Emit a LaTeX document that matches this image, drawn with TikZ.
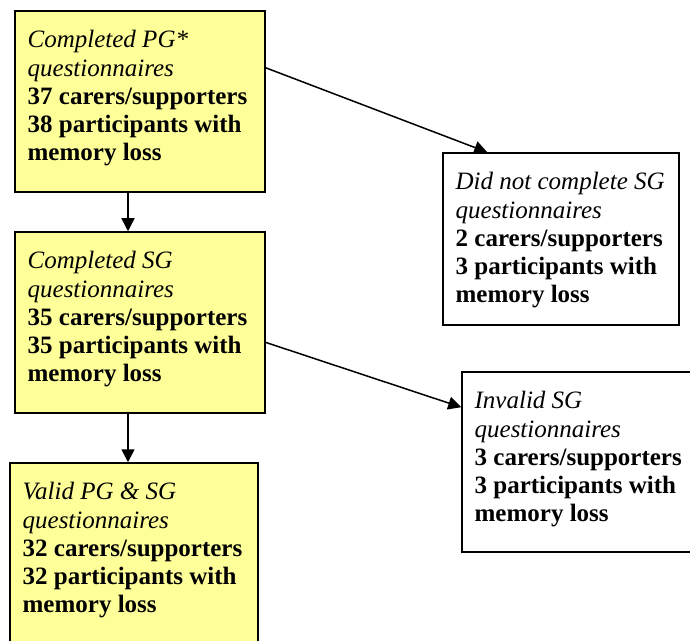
\documentclass[tikz,border=0pt]{standalone}
\usepackage{fontspec}
\setmainfont{Liberation Serif}
\usetikzlibrary{arrows.meta, calc}
\definecolor{boxyellow}{HTML}{FFFF99}
\newcommand{\flowbox}[6]{%
  \node[draw=black, line width=0.75pt, fill=#3, minimum width=#4,
        minimum height=#5, inner sep=0pt] (#1) at (#2) {};
  \node[anchor=north west, inner xsep=6.5pt, inner ysep=10pt, align=left]
        (#1-text) at (#1.north west) {#6};}

\begin{document}
\begin{tikzpicture}[x=0.5pt, y=-0.5pt, font=\fontsize{12.5}{14.1}\selectfont,
    flowarrow/.style={-{Triangle[length=6.5pt, width=6.5pt]}, line width=0.75pt}]
  \clip (0,0) rectangle (690,641);
  \fill[white] (0,0) rectangle (690,641);
  \flowbox{s1}{140,101.5}{boxyellow}{125pt}{90.5pt}{\textit{Completed PG*}\\
    \textit{questionnaires}\\\textbf{37 carers/supporters}\\
    \textbf{38 participants with}\\\textbf{memory loss}}
  \flowbox{s2}{140,322.5}{boxyellow}{125pt}{90.5pt}{\textit{Completed SG}\\
    \textit{questionnaires}\\\textbf{35 carers/supporters}\\
    \textbf{35 participants with}\\\textbf{memory loss}}
  \flowbox{s3}{134,553.5}{boxyellow}{124pt}{90.5pt}{\textit{Valid PG \& SG}\\
    \textit{questionnaires}\\\textbf{32 carers/supporters}\\
    \textbf{32 participants with}\\\textbf{memory loss}}
  \flowbox{s4}{561,239}{white}{118pt}{86pt}{\textit{Did not complete SG}\\
    \textit{questionnaires}\\\textbf{2 carers/supporters}\\
    \textbf{3 participants with}\\\textbf{memory loss}}
  \flowbox{s5}{580,462}{white}{118pt}{90pt}{\textit{Invalid SG}\\
    \textit{questionnaires}\\\textbf{3 carers/supporters}\\
    \textbf{3 participants with}\\\textbf{memory loss}}
  \draw[flowarrow] ([xshift=-6pt]s1.south) -- ([xshift=-6pt]s2.north);
  \draw[flowarrow] ([xshift=-6pt]s2.south) -- ([xshift=-6pt]s2.south |- s3.north);
  \draw[flowarrow] (s1.15) -- ([xshift=22.5pt]s4.north west);
  \draw[flowarrow] (s2.-9) -- ([yshift=-18pt]s5.north west);
\end{tikzpicture}
\end{document}
